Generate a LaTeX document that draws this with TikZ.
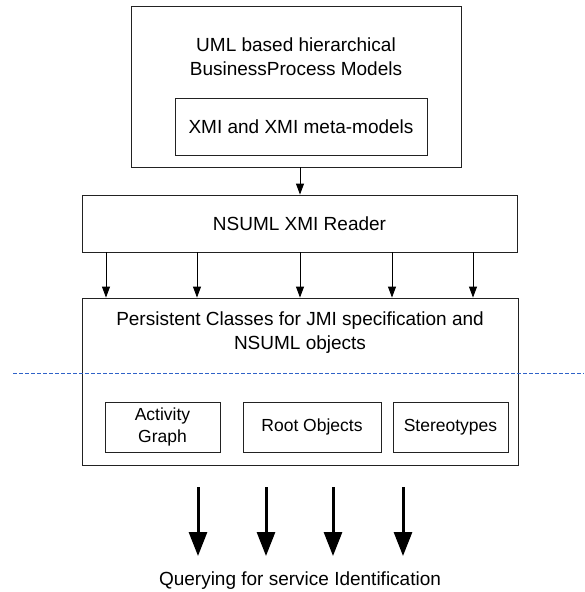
\documentclass[tikz,border=0pt]{standalone}
\usepackage{fontspec}
\setmainfont{Liberation Sans}
\usetikzlibrary{arrows.meta}
\definecolor{edge}{HTML}{222222}
\definecolor{dashblue}{HTML}{2F62C8}
\tikzset{
  box/.style={draw=edge, line width=0.9pt, rectangle, inner sep=0pt},
  label/.style={inner sep=0pt, font=\fontsize{19}{24}\selectfont, align=center},
  small/.style={inner sep=0pt, font=\fontsize{17.5}{22}\selectfont, align=center},
  thin/.style={draw=black, line width=0.9pt, -{Triangle[width=8pt,length=11pt]}},
  fat/.style={draw=black, line width=3pt, -{Triangle[width=18pt,length=24pt]}, shorten >=-1pt}
}
\begin{document}
\begin{tikzpicture}[x=1pt, y=-1pt]
  \useasboundingbox (0,0) rectangle (584,592);

  % model source (base anchor sits on the last line)
  \node[box, minimum width=330pt, minimum height=161pt] (model) at (296,86.5) {};
  \node[label, anchor=base] (modeltxt) at (296,75) {UML based hierarchical\\BusinessProcess Models};
  \node[box, minimum width=252pt, minimum height=57pt, label] (xmi) at (301,126.5) {XMI and XMI meta-models};

  % reader
  \node[box, minimum width=435pt, minimum height=57pt, label] (reader) at (299.5,223.5) {NSUML XMI Reader};

  % persistent classes
  \node[box, minimum width=436pt, minimum height=167pt] (persist) at (300,381.5) {};
  \node[label, anchor=base] (persisttxt) at (300,349) {Persistent Classes for JMI specification and\\NSUML objects};
  \node[box, minimum width=115pt, minimum height=50pt, small] (activity) at (162.5,427) {Activity\\Graph};
  \node[box, minimum width=138pt, minimum height=50pt, small] (root) at (312,427) {Root Objects};
  \node[box, minimum width=115pt, minimum height=50pt, small] (stereo) at (450.5,427) {Stereotypes};

  % separator
  \coordinate (sepL) at (13,373);
  \coordinate (sepR) at (584,373);
  \draw[dashblue, line width=1pt, dash pattern=on 4pt off 2pt] (sepL) -- (sepR);

  % model -> reader
  \draw[thin] (model.south -| 300,0) -- (reader.north -| 300,0);

  % reader -> persistent classes
  \foreach \x in {106,197,300,392,473}
    \draw[thin] (reader.south -| \x,0) -- (persist.north -| \x,0);

  % query output
  \node[label, anchor=base] (query) at (300,585) {Querying for service Identification};
  \foreach \x in {198,266,333,403}
    \draw[fat] (\x,487) -- (\x,555);
\end{tikzpicture}
\end{document}
